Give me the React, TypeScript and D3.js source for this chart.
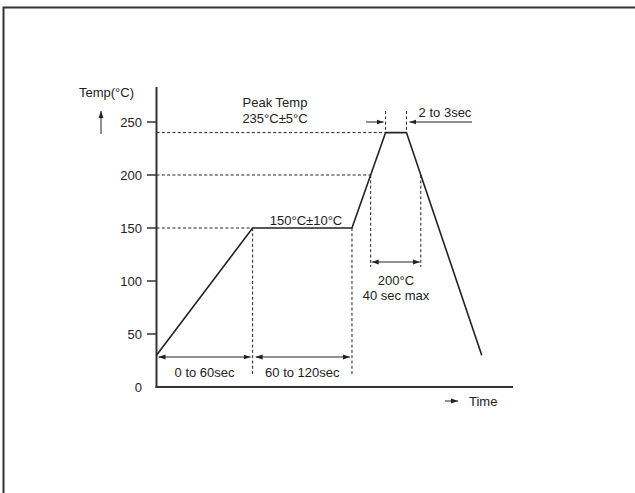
import React from "react";
import * as d3 from "d3";

// Reflow profile (schematic): time in seconds, temperature in °C
const profileTime = [0, 60, 122, 143, 156, 203];
const profileTemp = [30, 150, 150, 240, 240, 30];
const yTicks = [0, 50, 100, 150, 200, 250];
const peakTemp = 240;
const liquidusTemp = 200;
const soakTemp = 150;

const W = 635;
const H = 493;
const FONT = "'Liberation Sans', Arial, Helvetica, sans-serif";
const INK = "#222";

export default function App() {
  const x = d3.scaleLinear().domain([0, 222.5]).range([156.5, 513]);
  const y = d3.scaleLinear().domain([0, 250]).range([387, 122]);

  const pts: [number, number][] = profileTime.map((t, i) => [t, profileTemp[i]]);
  const line = d3
    .line<[number, number]>()
    .x((d) => x(d[0]))
    .y((d) => y(d[1]));

  // crossing of liquidus temperature on rising and falling edges
  const cross = (i: number, temp: number) => {
    const t0 = profileTime[i], t1 = profileTime[i + 1];
    const v0 = profileTemp[i], v1 = profileTemp[i + 1];
    return t0 + ((temp - v0) / (v1 - v0)) * (t1 - t0);
  };
  const tUp = cross(2, liquidusTemp);
  const tDown = cross(4, liquidusTemp);

  const x0 = x(0);
  const yBase = y(0);
  const dash = "3,2.3";
  const yRangeArrow = 357;
  const yRangeLabel = 377;

  const fontProps = { fontFamily: FONT, fontSize: 13, fill: INK } as const;

  return (
    <svg
      width={W}
      height={H}
      style={{ position: "absolute", left: 0, top: 0, background: "#fff" }}
    >
      <defs>
        <marker id="ah" viewBox="0 0 10 10" refX="10" refY="5" markerWidth="7" markerHeight="7" orient="auto-start-reverse" markerUnits="userSpaceOnUse">
          <path d="M0,1.5 L10,5 L0,8.5 Z" fill={INK} />
        </marker>
      </defs>
      {/* outer frame */}
      <rect x={3.5} y={7.5} width={W + 20} height={H + 20} fill="none" stroke="#333" strokeWidth={2} />

      {/* dashed reference lines */}
      <g stroke={INK} strokeWidth={1} strokeDasharray={dash} fill="none">
        <line x1={x0} x2={x(profileTime[3])} y1={y(peakTemp)} y2={y(peakTemp)} />
        <line x1={x0} x2={x(tUp)} y1={y(liquidusTemp)} y2={y(liquidusTemp)} />
        <line x1={x0} x2={x(profileTime[1])} y1={y(soakTemp)} y2={y(soakTemp)} />
        <line x1={x(profileTime[1])} x2={x(profileTime[1])} y1={y(soakTemp)} y2={375} />
        <line x1={x(profileTime[2])} x2={x(profileTime[2])} y1={y(soakTemp)} y2={375} />
        <line x1={x(tUp)} x2={x(tUp)} y1={y(liquidusTemp)} y2={267} />
        <line x1={x(tDown)} x2={x(tDown)} y1={y(liquidusTemp)} y2={267} />
        <line x1={x(profileTime[3])} x2={x(profileTime[3])} y1={111} y2={y(peakTemp)} />
        <line x1={x(profileTime[4])} x2={x(profileTime[4])} y1={111} y2={y(peakTemp)} />
      </g>

      {/* axes */}
      <g stroke="#333" strokeWidth={2}>
        <line x1={x0} x2={x0} y1={87} y2={yBase + 1} />
        <line x1={x0 - 1} x2={513} y1={yBase} y2={yBase} />
      </g>
      {yTicks.slice(1).map((t) => (
        <g key={t}>
          <line x1={147} x2={x0} y1={y(t)} y2={y(t)} stroke="#333" strokeWidth={1.5} />
          <text x={142} y={y(t)} dy="0.35em" textAnchor="end" {...fontProps}>
            {t}
          </text>
        </g>
      ))}
      <text x={142} y={yBase} dy="0.35em" textAnchor="end" {...fontProps}>0</text>

      {/* axis titles */}
      <text x={79} y={97} {...fontProps}>Temp(°C)</text>
      <line x1={101} x2={101} y1={134} y2={111} stroke={INK} strokeWidth={1} markerEnd="url(#ah)" />
      <line x1={445} x2={458} y1={401} y2={401} stroke={INK} strokeWidth={1} markerEnd="url(#ah)" />
      <text x={469} y={401} dy="0.35em" {...fontProps}>Time</text>

      {/* profile */}
      <path d={line(pts) || ""} fill="none" stroke={INK} strokeWidth={1.6} />

      {/* range arrows */}
      <g stroke={INK} strokeWidth={1} fill="none">
        <line x1={x0 + 2} x2={x(profileTime[1]) - 2} y1={yRangeArrow} y2={yRangeArrow} markerStart="url(#ah)" markerEnd="url(#ah)" />
        <line x1={x(profileTime[1]) + 3} x2={x(profileTime[2]) - 2} y1={yRangeArrow} y2={yRangeArrow} markerStart="url(#ah)" markerEnd="url(#ah)" />
        <line x1={x(tUp) + 1} x2={x(tDown) - 1} y1={262} y2={262} markerStart="url(#ah)" markerEnd="url(#ah)" />
        <line x1={366} x2={x(profileTime[3]) - 2} y1={122} y2={122} markerEnd="url(#ah)" />
        <line x1={472} x2={x(profileTime[4]) + 3} y1={122} y2={122} markerEnd="url(#ah)" />
      </g>

      {/* labels */}
      <text x={(x0 + x(profileTime[1])) / 2} y={yRangeLabel} textAnchor="middle" {...fontProps}>0 to 60sec</text>
      <text x={(x(profileTime[1]) + x(profileTime[2])) / 2} y={yRangeLabel} textAnchor="middle" {...fontProps}>60 to 120sec</text>
      <text x={306} y={225} textAnchor="middle" {...fontProps}>150°C±10°C</text>
      <text x={275} y={107} textAnchor="middle" {...fontProps}>Peak Temp</text>
      <text x={275} y={123} textAnchor="middle" {...fontProps}>235°C±5°C</text>
      <text x={445} y={117} textAnchor="middle" {...fontProps}>2 to 3sec</text>
      <text x={396} y={285} textAnchor="middle" {...fontProps}>200°C</text>
      <text x={396} y={300} textAnchor="middle" {...fontProps}>40 sec max</text>
    </svg>
  );
}
